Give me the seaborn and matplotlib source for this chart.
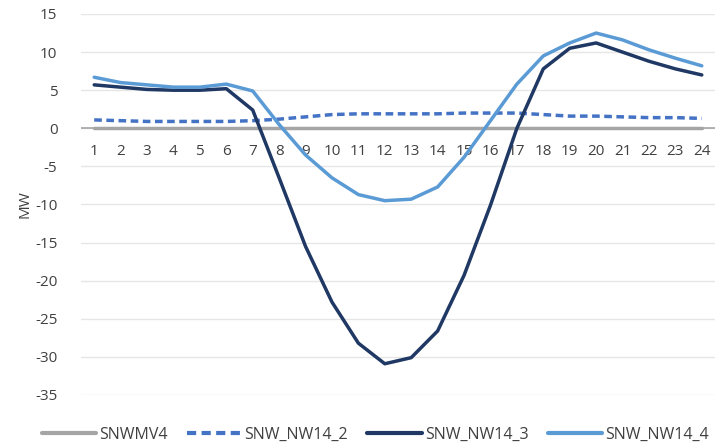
import matplotlib
matplotlib.use("Agg")
import matplotlib.pyplot as plt
import seaborn as sns
import pandas as pd

hours = list(range(1, 25))
snwmv4 = [0.0] * 24
snw_nw14_2 = [1.1, 1.0, 0.9, 0.9, 0.9, 0.9, 1.0, 1.2, 1.5, 1.8, 1.9, 1.9,
              1.9, 1.9, 2.0, 2.0, 2.0, 1.8, 1.6, 1.6, 1.5, 1.4, 1.4, 1.3]
snw_nw14_3 = [5.7, 5.4, 5.1, 5.0, 5.0, 5.2, 2.4, -6.5, -15.5, -22.8, -28.2, -30.9,
              -30.1, -26.6, -19.3, -10.1, 0.0, 7.8, 10.5, 11.2, 10.0, 8.8, 7.8, 7.0]
snw_nw14_4 = [6.7, 6.0, 5.7, 5.4, 5.4, 5.8, 4.9, 0.5, -3.5, -6.5, -8.7, -9.5,
              -9.3, -7.7, -3.8, 1.0, 5.8, 9.5, 11.2, 12.5, 11.6, 10.3, 9.2, 8.2]
series_names = ["SNWMV4", "SNW_NW14_2", "SNW_NW14_3", "SNW_NW14_4"]
yticks = [15, 10, 5, 0, -5, -10, -15, -20, -25, -30, -35]

df = pd.concat([
    pd.DataFrame({"hour": hours, "MW": vals, "series": name})
    for name, vals in zip(series_names, [snwmv4, snw_nw14_2, snw_nw14_3, snw_nw14_4])
])

sns.set_theme(style="white")
plt.rcParams["font.family"] = ["Open Sans", "DejaVu Sans"]
plt.rcParams["axes.unicode_minus"] = False

fig = plt.figure(figsize=(7.15, 4.46), dpi=100)
ax = fig.add_axes([81 / 715, 1 - 395 / 446, 1 - 81 / 715, (395 - 14) / 446])

palette = {"SNWMV4": "#a5a5a5", "SNW_NW14_2": "#4472c4",
           "SNW_NW14_3": "#1f3864", "SNW_NW14_4": "#5b9bd5"}
dashes = {"SNWMV4": "", "SNW_NW14_2": (2.2, 1.3),
          "SNW_NW14_3": "", "SNW_NW14_4": ""}

ax.axhline(0, color="#a5a5a5", lw=1.2, zorder=1)
sns.lineplot(data=df, x="hour", y="MW", hue="series", style="series",
             palette=palette, dashes=dashes, linewidth=2.5, ax=ax,
             hue_order=series_names, style_order=series_names, legend=True)

ax.set_xlim(0.5, 24.5)
ax.set_ylim(-35, 15)
ax.set_yticks(yticks)
ax.set_xticks(hours)
ax.grid(axis="y", color="#e6e6e6", lw=1)
ax.set_axisbelow(True)
for s in ax.spines.values():
    s.set_visible(False)
ax.spines["bottom"].set_position(("data", 0))
ax.tick_params(axis="x", length=0, pad=11, labelsize=11, labelcolor="#404040")
ax.tick_params(axis="y", length=0, pad=17, labelsize=11, labelcolor="#404040")
ax.set_xlabel("")
ax.set_ylabel("MW", fontsize=11, color="#404040", labelpad=2)

handles, labels = ax.get_legend_handles_labels()
ax.get_legend().remove()
for h in handles:
    h.set_linewidth(3)
fig.legend(handles, labels, loc="lower center", bbox_to_anchor=(0.525, -0.025), ncol=4,
           frameon=False, fontsize=11.5, handlelength=3.4, handletextpad=0.2,
           columnspacing=1.2, labelcolor="#404040")

fig.savefig("out.png", dpi=100)
